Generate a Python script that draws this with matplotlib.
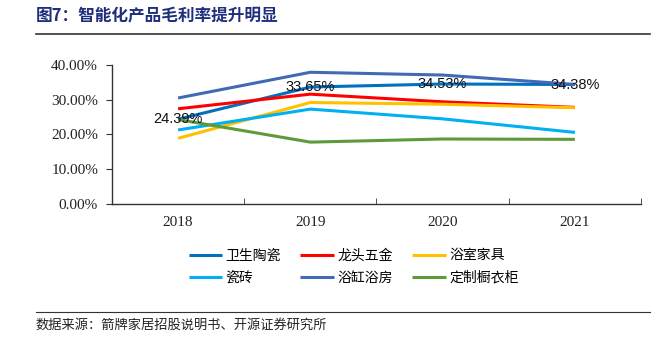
import matplotlib.pyplot as plt
from matplotlib.ticker import FuncFormatter, FixedLocator

plt.rcParams['font.family'] = ['Noto Sans CJK SC', 'DejaVu Sans']

years = ['2018', '2019', '2020', '2021']
sanitary = [24.39, 33.65, 34.53, 34.38]    # 卫生陶瓷
faucet = [27.4, 31.6, 29.4, 27.8]          # 龙头五金
bath_furn = [18.9, 29.2, 28.7, 27.7]       # 浴室家具
tile = [21.3, 27.3, 24.5, 20.6]            # 瓷砖
bathtub = [30.5, 37.9, 37.1, 34.4]         # 浴缸浴房
cabinet = [24.3, 17.8, 18.7, 18.6]         # 定制橱衣柜

series = [
    ('卫生陶瓷', sanitary, '#0070C0'),
    ('龙头五金', faucet, '#FF0000'),
    ('浴室家具', bath_furn, '#FFC000'),
    ('瓷砖', tile, '#00B0F0'),
    ('浴缸浴房', bathtub, '#4169B4'),
    ('定制橱衣柜', cabinet, '#5E9A3A'),
]

fig = plt.figure(figsize=(6.65, 3.37), dpi=100)
ax = fig.add_axes([0.1684, 0.3947, 0.7955, 0.4125])

x = range(len(years))
lines = []
for name, vals, col in series:
    ln, = ax.plot(x, vals, color=col, lw=2.2, solid_capstyle='butt', label=name)
    lines.append(ln)

# value labels for 卫生陶瓷
for i, v in enumerate(sanitary):
    ax.text(i, v, f'{v:.2f}%', ha='center', va='center', fontsize=10.5,
            family='Liberation Sans', color='#111111', zorder=5)

ax.set_xlim(-0.5, 3.5)
ax.set_ylim(0, 40)
ax.set_yticks([0, 10, 20, 30, 40])
ax.yaxis.set_major_formatter(FuncFormatter(lambda v, p: f'{v:.2f}%'))
ax.set_xticks(list(x))
ax.set_xticklabels(years)
ax.xaxis.set_minor_locator(FixedLocator([0.5, 1.5, 2.5, 3.5]))
ax.tick_params(axis='x', which='major', length=0, pad=9)
ax.tick_params(axis='x', which='minor', direction='in', length=4, color='#333333')
ax.tick_params(axis='y', direction='out', length=4, color='#333333', pad=6)
for lab in ax.get_xticklabels() + ax.get_yticklabels():
    lab.set_family('Liberation Serif')
    lab.set_fontsize(11)
    lab.set_color('#222222')
for s in ['top', 'right']:
    ax.spines[s].set_visible(False)
for s in ['left', 'bottom']:
    ax.spines[s].set_color('#333333')
    ax.spines[s].set_linewidth(1.0)

# legend filled row by row: 3 columns
order = [0, 3, 1, 4, 2, 5]
fig.legend(handles=[lines[i] for i in order], loc='upper left',
           bbox_to_anchor=(0.265, 0.30), ncol=3, frameon=False, fontsize=10,
           handlelength=2.4, handletextpad=0.25, columnspacing=1.4,
           labelspacing=0.6)

fig.text(0.054, 0.95, '图7：智能化产品毛利率提升明显', fontsize=12, fontweight='bold',
         color='#1F2F7A', va='center')
fig.add_artist(plt.Line2D([0.054, 0.977], [0.899, 0.899], color='#333333', lw=1.2))
fig.add_artist(plt.Line2D([0.054, 0.977], [0.074, 0.074], color='#333333', lw=0.8))
fig.text(0.054, 0.036, '数据来源：箭牌家居招股说明书、开源证券研究所', fontsize=9.5,
         color='#222222', va='center')

fig.savefig('out.png', dpi=100)
